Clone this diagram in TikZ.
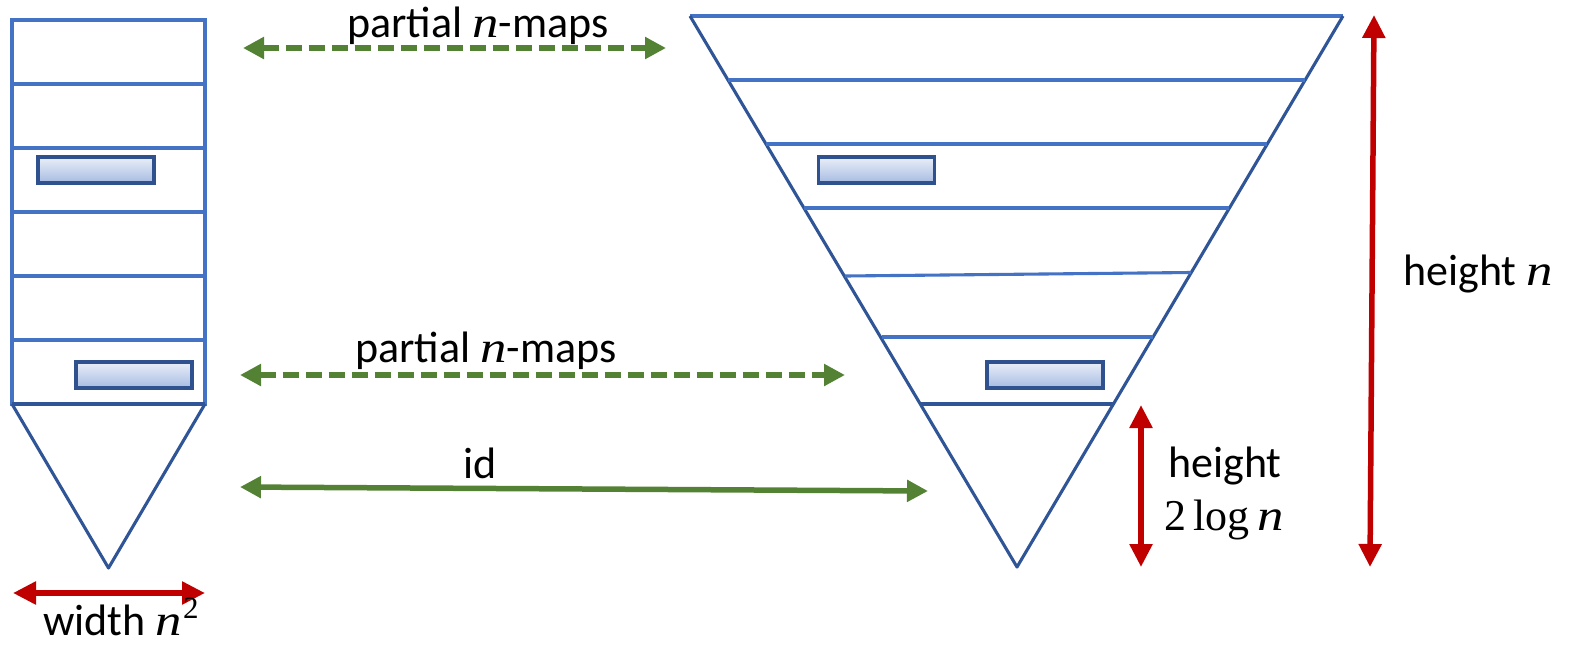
\documentclass[tikz,border=0pt]{standalone}
\usepackage{graphicx}
\usepackage{fontspec}
\setmainfont{Carlito}
\newfontfamily\mfont{Liberation Serif}
\newcommand{\mn}{{\mfont\itshape\scalebox{1.2}[1]{n}}}
\usetikzlibrary{arrows.meta}
\definecolor{edgeblue}{HTML}{2F5597}
\definecolor{lineblue}{HTML}{4472C4}
\definecolor{boxblue}{HTML}{2F528F}
\definecolor{slottop}{HTML}{EAEFF8}
\definecolor{slotbot}{HTML}{A6BBE2}
\definecolor{mapgreen}{HTML}{548235}
\definecolor{dimred}{HTML}{C00000}
\begin{document}
\begin{tikzpicture}[x=1pt,y=-1pt,
  edge/.style={draw=edgeblue,line width=3.1pt,line join=round},
  level/.style={draw=lineblue,line width=3.1pt},
  slot/.style={draw=boxblue,line width=3.2pt,top color=slottop,bottom color=slotbot,minimum width=116pt,minimum height=26pt,inner sep=0pt},
  map/.style={draw=mapgreen,line width=5.5pt,{Triangle[length=21pt,width=21pt]}-{Triangle[length=21pt,width=21pt]}},
  dashmap/.style={map,dash pattern=on 16pt off 7pt},
  dim/.style={draw=dimred,line width=5.5pt,{Triangle[length=23pt,width=22pt]}-{Triangle[length=23pt,width=22pt]}},
  lbl/.style={font=\fontsize{44}{52}\selectfont,inner sep=0pt,anchor=base}]
\useasboundingbox (0,0) rectangle (1571,649);

% left structure
\draw[level] (12,20) rectangle (205,404);
\foreach \y in {84,148,212,276,340} \draw[level] (12,\y) -- (205,\y);
\draw[edge] (12,404) -- (205,404);
\draw[edge] (12,404) -- (108.5,568) -- (205,404);
\node[slot] (s1) at (96,170) {};
\node[slot] (s2) at (134,375) {};

% right structure
\draw[level] (690,16) -- (1343,16);
\draw[edge] (690,16) -- (1017,567) -- (1343,16);
\draw[level] (728,80) -- (1305,80);
\draw[level] (766,144) -- (1267,144);
\draw[level] (804,208) -- (1229,208);
\draw[level] (845,276) -- (1191,272.5);
\draw[level] (882,337) -- (1153,337);
\draw[edge] (920,404) -- (1113.5,404);
\node[slot] (s3) at (876.5,170) {};
\node[slot] (s4) at (1045,375) {};

% connector end points
\coordinate (m1L) at (243,48);
\coordinate (m1R) at (666,48);
\coordinate (m2L) at (240,375);
\coordinate (m2R) at (845,375);
\coordinate (idL) at (240,487);
\coordinate (idR) at (928,491);
\coordinate (wL) at (13,593);
\coordinate (wR) at (205,593);
\coordinate (h2T) at (1141,405);
\coordinate (h2B) at (1141,567);
\coordinate (hnT) at (1374,15);
\coordinate (hnB) at (1370,567);

\draw[dashmap] (m1L) -- (m1R);
\draw[dashmap] (m2L) -- (m2R);
\draw[map] (idL) -- (idR);
\draw[dim] (wL) -- (wR);
\draw[dim] (h2T) -- (h2B);
\draw[dim] (hnT) -- (hnB);

% labels
\node[lbl] (t1) at (478,37) {partial \mn-maps};
\node[lbl] (t2) at (486,362) {partial \mn-maps};
\node[lbl] (tid) at (480,478) {id};
\node[lbl] (tw) at (121,635) {width \mn\hspace{1pt}\raisebox{17pt}{\fontsize{31}{36}\selectfont\mfont 2}};
\node[lbl] (th1) at (1225,477) {height};
\node[lbl] (th2) at (1224,530) {{\mfont 2\,log\,}\mn};
\node[lbl,anchor=base west] (thn) at (1403,285) {height \mn};
\end{tikzpicture}
\end{document}
